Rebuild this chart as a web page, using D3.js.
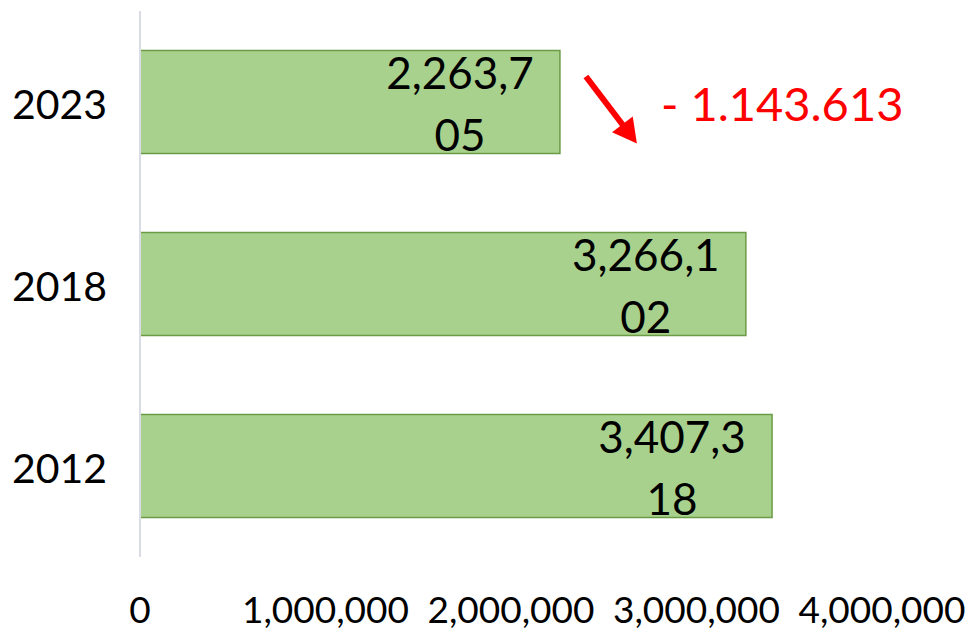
<!DOCTYPE html>
<html>
<head>
<meta charset="utf-8">
<script src="https://cdn.jsdelivr.net/npm/d3@7"></script>
<style>
  body { margin: 0; background: #fff; }
  svg { display: block; font-family: Lato, "Noto Sans", sans-serif; }
</style>
</head>
<body>
<div class="container__chart"></div>
<script>
// data
const categories = ["2023", "2018", "2012"];
const values = [2263705, 3266102, 3407318];
const tickValues = [0, 1000000, 2000000, 3000000, 4000000];
const changeLabel = "- 1.143.613";

const WIDTH = 976;
const HEIGHT = 632;

const xScale = d3.scaleLinear().domain([0, 4000000]).range([140, 882]);
const yScale = d3.scaleBand().domain(categories).range([11, 557]).paddingInner(0.434).paddingOuter(0.217);

const svg = d3.select(".container__chart")
    .append("svg")
    .attr("width", WIDTH)
    .attr("height", HEIGHT);

// bars
svg.selectAll(".bar")
    .data(values)
    .enter()
    .append("rect")
    .classed("bar", true)
    .attr("x", xScale(0))
    .attr("y", (d, i) => yScale(categories[i]))
    .attr("width", d => xScale(d) - xScale(0))
    .attr("height", yScale.bandwidth())
    .attr("fill", "#a9d18e")
    .attr("stroke", "#6a9c45")
    .attr("stroke-width", 1.5);

// vertical axis line
svg.append("line")
    .attr("x1", xScale(0)).attr("x2", xScale(0))
    .attr("y1", 11).attr("y2", 557)
    .attr("stroke", "#d9dde3")
    .attr("stroke-width", 2);

// category labels
svg.selectAll(".cat")
    .data(categories)
    .enter()
    .append("text")
    .attr("x", 107)
    .attr("y", d => yScale(d) + yScale.bandwidth() / 2 + 17)
    .attr("text-anchor", "end")
    .style("font-size", "41px")
    .attr("fill", "#000")
    .text(d => d);

// x tick labels
const fmt = d3.format(",");
svg.selectAll(".xtick")
    .data(tickValues)
    .enter()
    .append("text")
    .attr("x", d => xScale(d))
    .attr("y", 623)
    .attr("text-anchor", "middle")
    .style("font-size", "37px")
    .attr("fill", "#000")
    .text(d => fmt(d));

// value labels, wrapped in two lines like the original
const labels = svg.selectAll(".val")
    .data(values)
    .enter()
    .append("text")
    .attr("text-anchor", "middle")
    .style("font-size", "44px")
    .attr("fill", "#000");

labels.append("tspan")
    .attr("x", d => xScale(d) - 100)
    .attr("y", (d, i) => yScale(categories[i]) + yScale.bandwidth() / 2 - 13)
    .text(d => fmt(d).slice(0, 7));
labels.append("tspan")
    .attr("x", d => xScale(d) - 100)
    .attr("y", (d, i) => yScale(categories[i]) + yScale.bandwidth() / 2 + 49)
    .text(d => fmt(d).slice(7));

// red arrow + change
const ax = xScale(values[0]);
const ay = yScale(categories[0]);
const x1 = ax + 26, y1 = ay + 26, x2 = ax + 77, y2 = ay + 93;
const len = Math.hypot(x2 - x1, y2 - y1);
const ux = (x2 - x1) / len, uy = (y2 - y1) / len;
const headLen = 24, headHalf = 13;
const bx = x2 - ux * headLen, by = y2 - uy * headLen;

svg.append("line")
    .attr("x1", x1).attr("y1", y1)
    .attr("x2", bx + ux * 2).attr("y2", by + uy * 2)
    .attr("stroke", "#ff0000")
    .attr("stroke-width", 6);

svg.append("path")
    .attr("d", `M${x2},${y2}L${bx - uy * headHalf},${by + ux * headHalf}L${bx + uy * headHalf},${by - ux * headHalf}Z`)
    .attr("fill", "#ff0000");

svg.append("text")
    .attr("x", ax + 101)
    .attr("y", ay + yScale.bandwidth() / 2 + 19)
    .style("font-size", "47px")
    .attr("fill", "#ff0000")
    .text(changeLabel);
</script>
</body>
</html>
